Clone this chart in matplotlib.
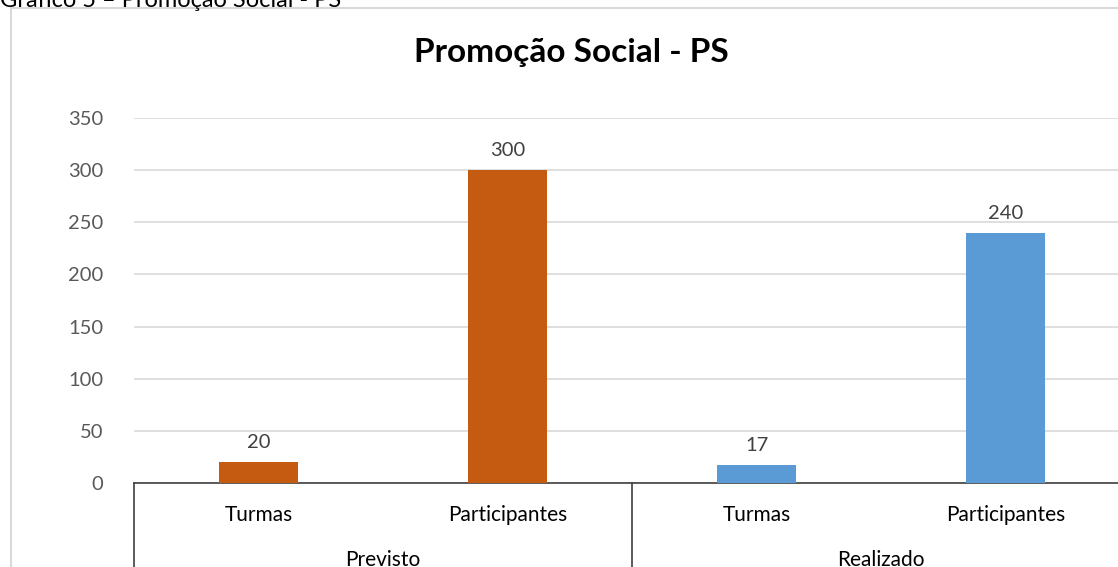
import matplotlib.pyplot as plt
from matplotlib.patches import Rectangle

plt.rcParams["font.family"] = ["Lato", "DejaVu Sans"]

groups = ["Previsto", "Realizado"]
categories = ["Turmas", "Participantes", "Turmas", "Participantes"]
values = [20, 300, 17, 240]
colors = ["#C55A11", "#C55A11", "#5B9BD5", "#5B9BD5"]
yticks = [0, 50, 100, 150, 200, 250, 300, 350]

W, H = 1118, 567
fig = plt.figure(figsize=(W / 100, H / 100), dpi=100)

# outer chart frame (runs off right and bottom edges)
fig.patches.append(Rectangle((11 / W, -0.1), 1.2, 1 - 8 / H + 0.1, transform=fig.transFigure,
                             fill=False, edgecolor="#d9d9d9", linewidth=1.5))
fig.text(0.0, 1 - 7 / H, "Gráfico 5 – Promoção Social - PS", fontsize=17, va="baseline",
         ha="left", color="#000000")

ax = fig.add_axes([134 / W, (H - 483) / H, (1130 - 134) / W, (483 - 118) / H])
x = list(range(len(values)))
ax.bar(x, values, width=0.32, color=colors, zorder=3)
for xi, v in zip(x, values):
    ax.annotate(str(v), (xi, v), xytext=(0, 8), textcoords="offset points",
                ha="center", va="bottom", fontsize=14.5, color="#404040")

ax.set_xlim(-0.5, len(values) - 0.5)
ax.set_ylim(0, 350)
ax.set_yticks(yticks)
ax.tick_params(axis="y", length=0, labelsize=14.5, labelcolor="#595959", pad=22)
ax.set_xticks([])
ax.grid(axis="y", color="#d9d9d9", linewidth=1.2, zorder=0)
for s in ["top", "right", "left"]:
    ax.spines[s].set_visible(False)
ax.spines["bottom"].set_color("#404040")
ax.spines["bottom"].set_linewidth(1.2)

fig.text(571 / W, 1 - 62 / H, "Promoção Social - PS", fontsize=24, fontweight="bold",
         ha="center", va="baseline")

# multi-level category axis
trans = ax.get_xaxis_transform()
for xb in [-0.5, 1.5, 3.5]:
    ax.plot([xb, xb], [0, -0.4], transform=trans, color="#404040", linewidth=1.2, clip_on=False)
for xi, c in zip(x, categories):
    ax.text(xi, -0.088, c, transform=trans, ha="center", va="center", fontsize=15, color="#000000")
for gi, g in enumerate(groups):
    ax.text(gi * 2 + 0.5, -0.21, g, transform=trans, ha="center", va="center", fontsize=15,
            color="#000000")

fig.savefig("out.png", dpi=100)
